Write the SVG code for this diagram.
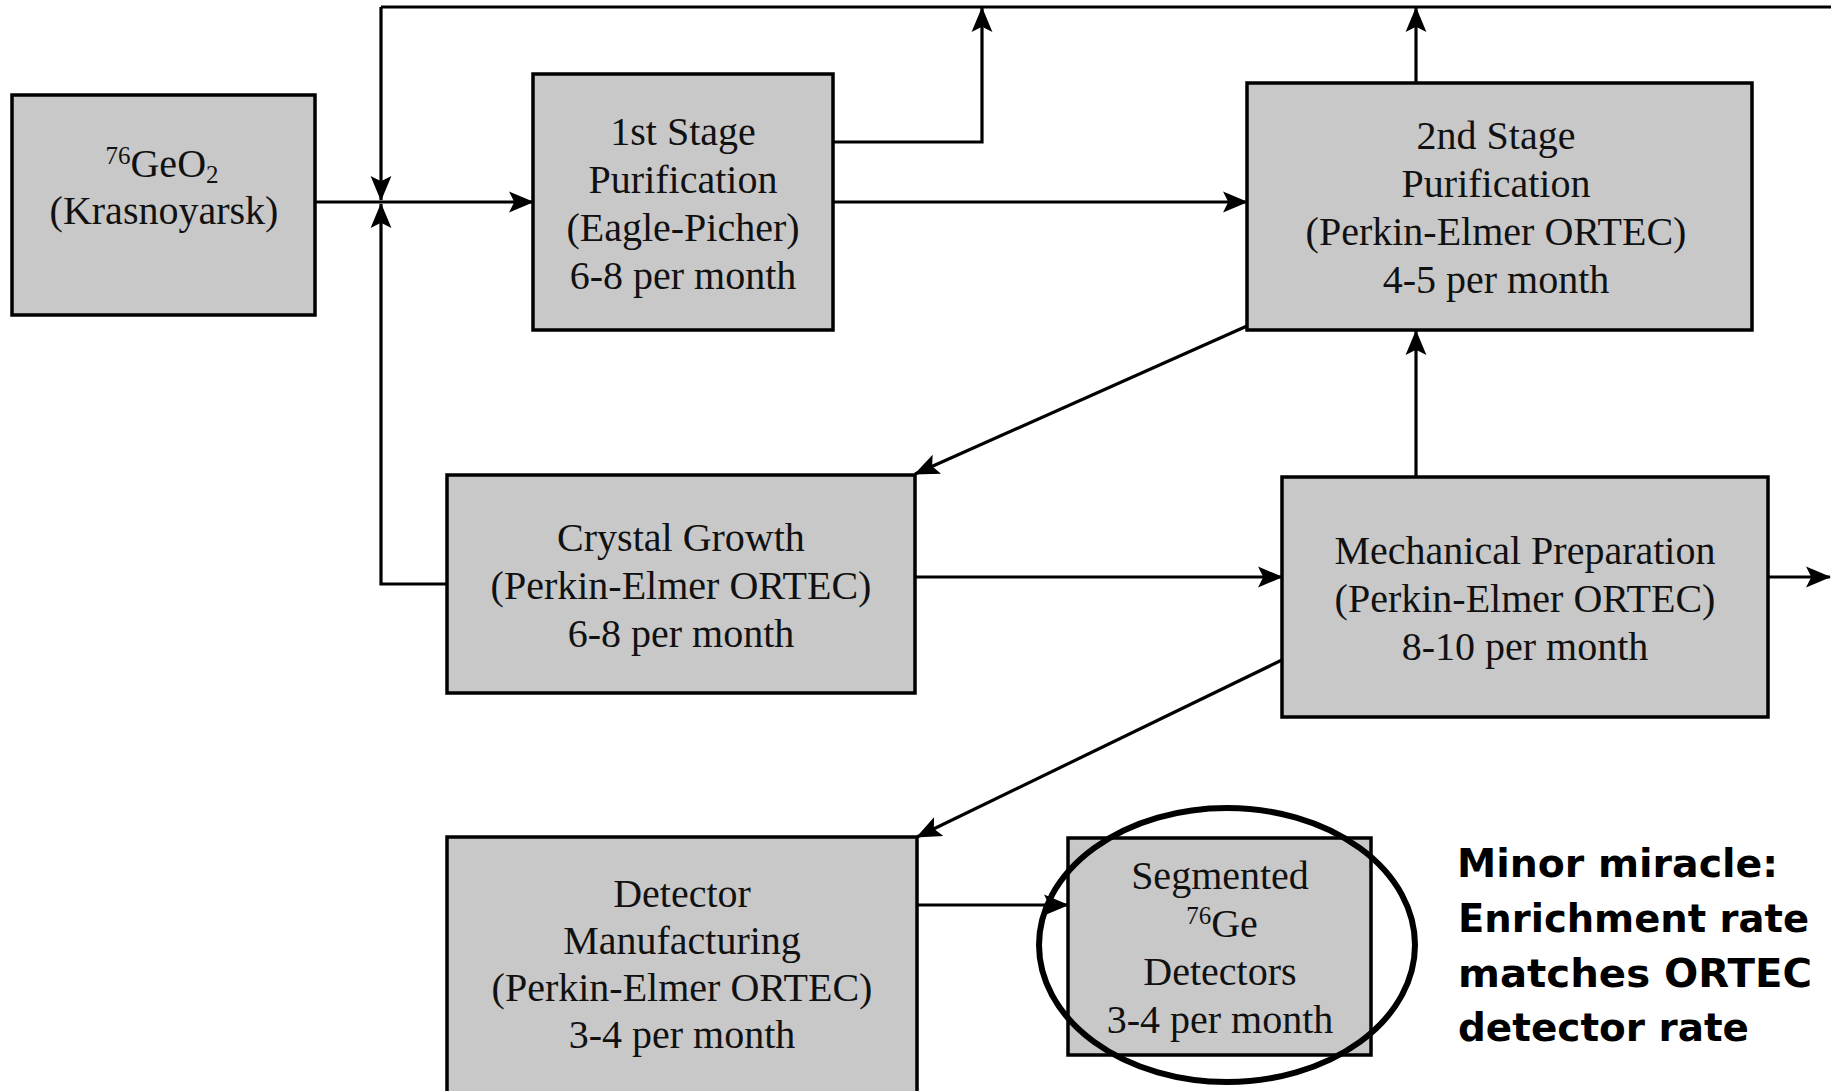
<svg xmlns="http://www.w3.org/2000/svg" width="1831" height="1091" viewBox="0 0 1831 1091">
<style>
.box{fill:#c8c8c8;stroke:#000;stroke-width:3.5}
.t{font-family:"Liberation Serif","Times New Roman",serif;font-size:40px;fill:#111;text-anchor:middle}
.sup{font-size:25px}
.c{fill:none;stroke:#000;stroke-width:3.2}
.note{font-family:"DejaVu Sans",sans-serif;font-weight:bold;font-size:39px;fill:#000}
</style>
<defs>
<marker id="ah" viewBox="0 0 24 22" refX="23" refY="11" markerWidth="25" markerHeight="23" markerUnits="userSpaceOnUse" orient="auto">
<path d="M0,1 L24,11 L0,21 L5,11 z" fill="#000"/>
</marker>
</defs>
<rect width="1831" height="1091" fill="#fff"/>

<g id="connectors">
<path class="c" d="M381,7 H1831"/>
<path class="c" d="M381,7 V200" marker-end="url(#ah)"/>
<path class="c" d="M315,202 H533" marker-end="url(#ah)"/>
<path class="c" d="M447,584 H381 V204" marker-end="url(#ah)"/>
<path class="c" d="M833,142 H982 V8" marker-end="url(#ah)"/>
<path class="c" d="M833,202 H1247" marker-end="url(#ah)"/>
<path class="c" d="M1416,83 V8" marker-end="url(#ah)"/>
<path class="c" d="M1247,326 L915,474" marker-end="url(#ah)"/>
<path class="c" d="M915,577 H1282" marker-end="url(#ah)"/>
<path class="c" d="M1416,477 V331" marker-end="url(#ah)"/>
<path class="c" d="M1768,577 H1830" marker-end="url(#ah)"/>
<path class="c" d="M1282,660 L917,837" marker-end="url(#ah)"/>
<path class="c" d="M917,905 H1068" marker-end="url(#ah)"/>
</g>

<g id="node-geo2">
<rect class="box" x="12" y="95" width="303" height="220"/>
<text class="t" x="162" y="177"><tspan class="sup" dy="-13">76</tspan><tspan dy="13">GeO</tspan><tspan class="sup" dy="6">2</tspan></text>
<text class="t" x="164" y="224">(Krasnoyarsk)</text>
</g>

<g id="node-stage1">
<rect class="box" x="533" y="74" width="300" height="256"/>
<text class="t" x="683" y="145">1st Stage</text>
<text class="t" x="683" y="193">Purification</text>
<text class="t" x="683" y="241">(Eagle-Picher)</text>
<text class="t" x="683" y="289">6-8 per month</text>
</g>

<g id="node-stage2">
<rect class="box" x="1247" y="83" width="505" height="247"/>
<text class="t" x="1496" y="149">2nd Stage</text>
<text class="t" x="1496" y="197">Purification</text>
<text class="t" x="1496" y="245">(Perkin-Elmer ORTEC)</text>
<text class="t" x="1496" y="293">4-5 per month</text>
</g>

<g id="node-crystal">
<rect class="box" x="447" y="475" width="468" height="218"/>
<text class="t" x="681" y="551">Crystal Growth</text>
<text class="t" x="681" y="599">(Perkin-Elmer ORTEC)</text>
<text class="t" x="681" y="647">6-8 per month</text>
</g>

<g id="node-mech">
<rect class="box" x="1282" y="477" width="486" height="240"/>
<text class="t" x="1525" y="564">Mechanical Preparation</text>
<text class="t" x="1525" y="612">(Perkin-Elmer ORTEC)</text>
<text class="t" x="1525" y="660">8-10 per month</text>
</g>

<g id="node-detector">
<rect class="box" x="447" y="837" width="470" height="270"/>
<text class="t" x="682" y="907">Detector</text>
<text class="t" x="682" y="954">Manufacturing</text>
<text class="t" x="682" y="1001">(Perkin-Elmer ORTEC)</text>
<text class="t" x="682" y="1048">3-4 per month</text>
</g>

<g id="node-segmented">
<rect class="box" x="1068" y="838" width="303" height="217"/>
<text class="t" x="1220" y="889">Segmented</text>
<text class="t" x="1222" y="937"><tspan class="sup" dy="-13">76</tspan><tspan dy="13">Ge</tspan></text>
<text class="t" x="1220" y="985">Detectors</text>
<text class="t" x="1220" y="1033">3-4 per month</text>
</g>

<g id="highlight">
<ellipse cx="1227" cy="945" rx="188" ry="137" fill="none" stroke="#000" stroke-width="6"/>
</g>

<g id="note">
<text class="note" x="1457" y="877" textLength="321" lengthAdjust="spacingAndGlyphs">Minor miracle:</text>
<text class="note" x="1458" y="932" textLength="351" lengthAdjust="spacingAndGlyphs">Enrichment rate</text>
<text class="note" x="1458" y="987" textLength="354" lengthAdjust="spacingAndGlyphs">matches ORTEC</text>
<text class="note" x="1458" y="1041" textLength="291" lengthAdjust="spacingAndGlyphs">detector rate</text>
</g>
</svg>
